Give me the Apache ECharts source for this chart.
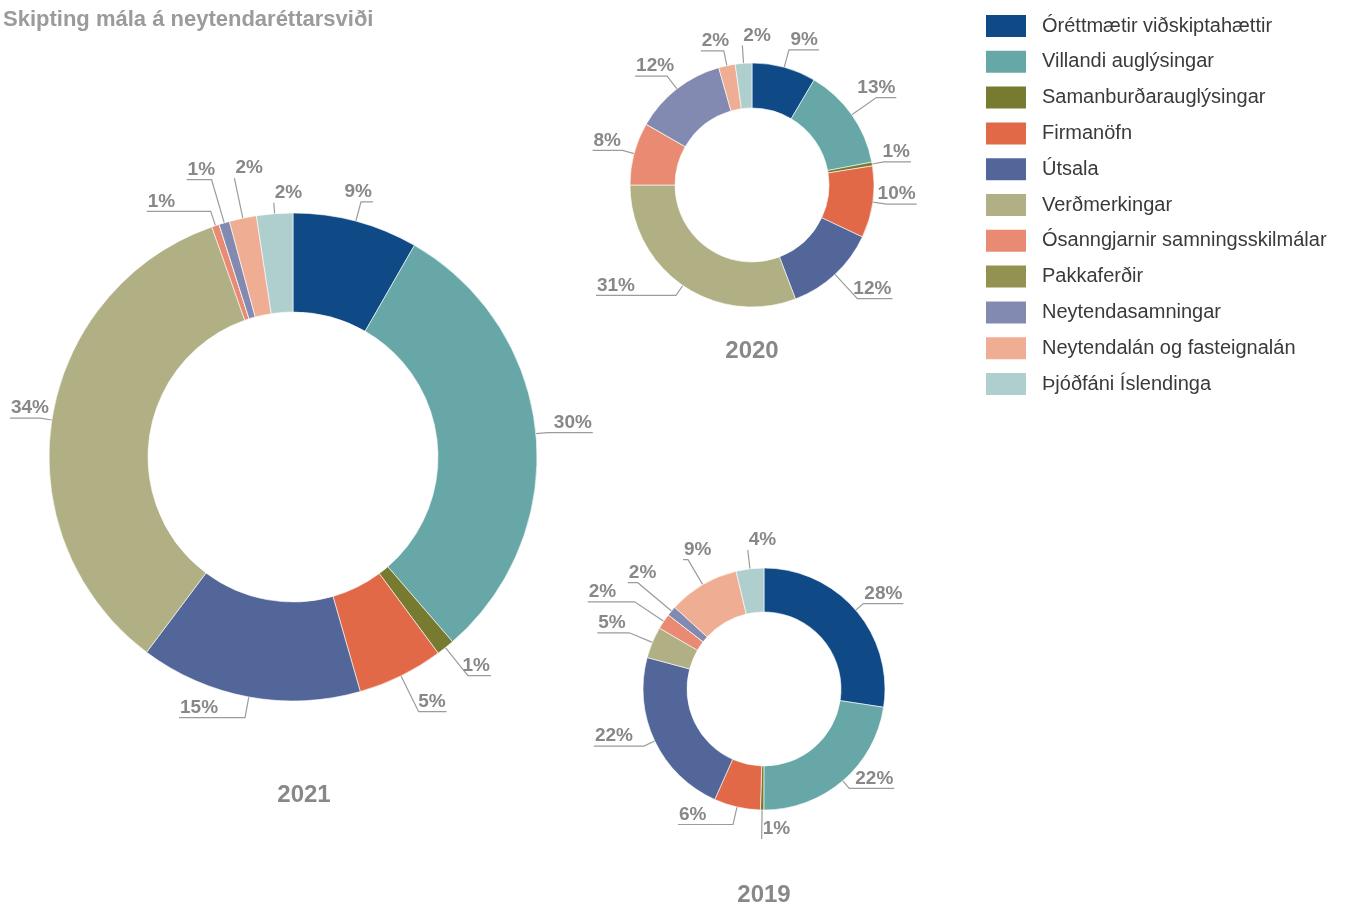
<!DOCTYPE html>
<html>
<head>
<meta charset="utf-8">
<script src="https://cdn.jsdelivr.net/npm/echarts@6/dist/echarts.min.js"></script>
<style>
  html, body { margin: 0; padding: 0; background: #fff; }
  #chart { width: 1346px; height: 908px; }
</style>
</head>
<body>
<div id="chart"></div>
<script>
// flokkar (legend order)
const categories = [
  'Óréttmætir viðskiptahættir',
  'Villandi auglýsingar',
  'Samanburðarauglýsingar',
  'Firmanöfn',
  'Útsala',
  'Verðmerkingar',
  'Ósanngjarnir samningsskilmálar',
  'Pakkaferðir',
  'Neytendasamningar',
  'Neytendalán og fasteignalán',
  'Þjóðfáni Íslendinga'
]
const colors = ['#0F4A87', '#67A7A7', '#767B30', '#E16947', '#526699', '#B1AF84',
  '#E98B72', '#939251', '#838AB1', '#EFAE93', '#AFCECE']

const values2021 = [8.3, 30.4, 1.2, 5.7, 14.7, 34.4, 0.5, 0, 0.7, 1.8, 2.4]
const labels2021 = ['9%', '30%', '1%', '5%', '15%', '34%', '1%', '', '1%', '2%', '2%']
const values2020 = [8.5, 13.5, 0.5, 9.5, 12.2, 30.8, 8.3, 0, 12.3, 2.2, 2.2]
const labels2020 = ['9%', '13%', '1%', '10%', '12%', '31%', '8%', '', '12%', '2%', '2%']
const values2019 = [27.4, 22.6, 0.45, 6.2, 22.5, 4.2, 2.1, 0, 1.3, 9.5, 3.7]
const labels2019 = ['28%', '22%', '1%', '6%', '22%', '5%', '2%', '', '2%', '9%', '4%']

// label line lengths [length, length2] per slice, so labels sit roughly where the original has them
const lines2021 = [[20, 12], [12, 45], [36, 23], [40, 28], [21, 66], [12, 30], [15, 64], [0, 0], [45, 25], [41, 0], [11, 0]]
const lines2020 = [[18, 30], [30, 20], [12, 27], [14, 30], [33, 35], [12, 80], [12, 30], [0, 0], [16, 32], [15, 23], [18, 0]]
const lines2019 = [[10, 40], [10, 45], [29, 0], [18, 55], [12, 50], [25, 32], [35, 47], [0, 0], [44, 10], [29, 5], [19, 0]]

const FONT = "'Liberation Sans', Arial, sans-serif"
const GRAY = '#888888'
const LABEL_SIZE = 19

// rough width of a bold label like "30%" so the text can sit over the end of the line
function textWidth (s) {
  return (s.length - 1) * LABEL_SIZE * 0.556 + LABEL_SIZE * 0.889
}

function buildData (values, labels, lines) {
  return categories.map(function (name, i) {
    const item = { name: name, value: values[i], lbl: labels[i] }
    if (!values[i]) {
      item.label = { show: false }
      item.labelLine = { show: false }
    } else {
      item.label = { distanceToLabelLine: -(textWidth(labels[i]) + 1) }
      item.labelLine = { length: lines[i][0], length2: lines[i][1] }
    }
    return item
  })
}

function pieSeries (center, radius, values, labels, lines) {
  return {
    type: 'pie',
    center: center,
    radius: radius,
    startAngle: 90,
    clockwise: true,
    avoidLabelOverlap: false,
    labelLayout: { hideOverlap: false },
    itemStyle: { borderColor: '#fff', borderWidth: 0.6 },
    label: {
      show: true,
      position: 'outside',
      formatter: function (p) { return p.data.lbl + '\n ' },
      color: GRAY,
      fontFamily: FONT,
      fontWeight: 'bold',
      fontSize: LABEL_SIZE,
      lineHeight: 20
    },
    labelLine: {
      show: true,
      lineStyle: { color: '#9C9C9C', width: 1.2 }
    },
    emphasis: { disabled: true },
    data: buildData(values, labels, lines)
  }
}

const chart = echarts.init(document.getElementById('chart'))

const option = {
  color: colors,
  animation: false,
  title: {
    text: 'Skipting mála á neytendaréttarsviði',
    left: -2,
    top: 4,
    textStyle: { color: '#9B9B9B', fontFamily: FONT, fontWeight: 'bold', fontSize: 22 }
  },
  legend: {
    orient: 'vertical',
    left: 984,
    top: 13,
    padding: 0,
    icon: 'rect',
    itemWidth: 42,
    itemHeight: 24,
    itemGap: 9.8,
    selectedMode: false,
    data: categories,
    textStyle: { color: '#3A3A3A', fontFamily: FONT, fontSize: 20, lineHeight: 22, padding: [0, 0, 0, 10] }
  },
  graphic: [
    { type: 'text', x: 304, y: 795, style: { text: '2021', align: 'center', verticalAlign: 'middle', fill: GRAY, font: 'bold 24px ' + FONT } },
    { type: 'text', x: 752, y: 351, style: { text: '2020', align: 'center', verticalAlign: 'middle', fill: GRAY, font: 'bold 24px ' + FONT } },
    { type: 'text', x: 764, y: 895, style: { text: '2019', align: 'center', verticalAlign: 'middle', fill: GRAY, font: 'bold 24px ' + FONT } }
  ],
  series: [
    pieSeries([293, 457], [145, 244], values2021, labels2021, lines2021),
    pieSeries([752, 185], [77, 122], values2020, labels2020, lines2020),
    pieSeries([764, 689], [77, 121], values2019, labels2019, lines2019)
  ]
}

chart.setOption(option)
</script>
</body>
</html>
